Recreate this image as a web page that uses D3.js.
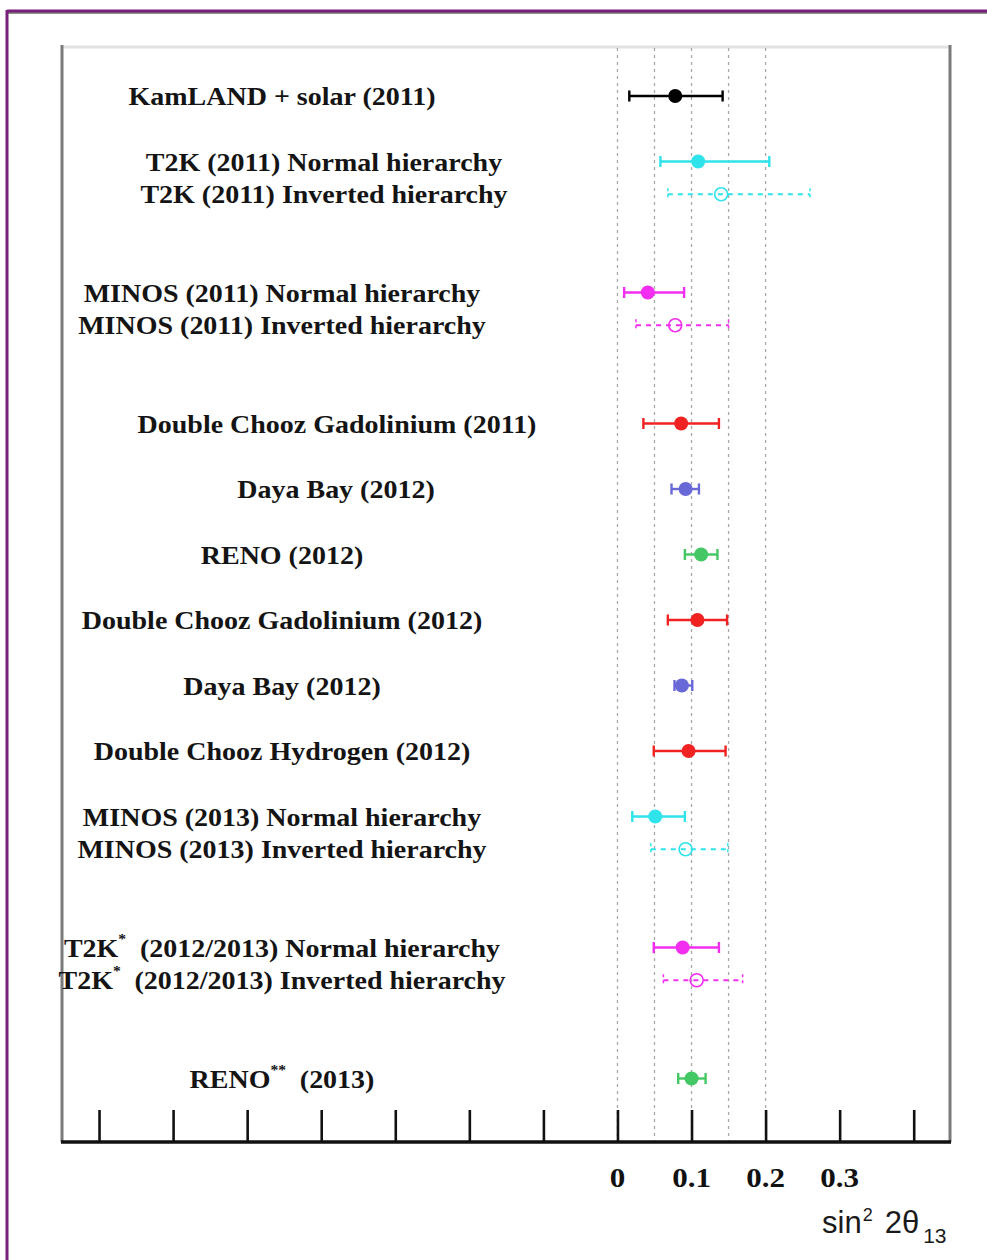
<!DOCTYPE html>
<html>
<head>
<meta charset="utf-8">
<script src="https://cdn.jsdelivr.net/npm/d3@7"></script>
<style>
  html, body { margin: 0; padding: 0; background: #fff; }
  svg { display: block; }
  .label { font-family: "Liberation Serif", "Times New Roman", serif; font-weight: bold; fill: #141414; }
  .ticklabel { font-family: "Liberation Serif", "Times New Roman", serif; font-weight: bold; fill: #111; }
  .axistitle { font-family: "Liberation Sans", Arial, sans-serif; fill: #1a1a1a; }
</style>
</head>
<body>
<div id="chart"></div>
<script>
// measurement labels, ^{..} marks a superscript
const labels = [
  "KamLAND + solar (2011)",
  "T2K (2011) Normal hierarchy",
  "T2K (2011) Inverted hierarchy",
  "MINOS (2011) Normal hierarchy",
  "MINOS (2011) Inverted hierarchy",
  "Double Chooz Gadolinium (2011)",
  "Daya Bay (2012)",
  "RENO (2012)",
  "Double Chooz Gadolinium (2012)",
  "Daya Bay (2012)",
  "Double Chooz Hydrogen (2012)",
  "MINOS (2013) Normal hierarchy",
  "MINOS (2013) Inverted hierarchy",
  "T2K^{*} (2012/2013) Normal hierarchy",
  "T2K^{*} (2012/2013) Inverted hierarchy",
  "RENO^{**} (2013)"
];
// row slot of each measurement (top = 0)
const rows = [0, 1, 1.5, 3, 3.5, 5, 6, 7, 8, 9, 10, 11, 11.5, 13, 13.5, 15];
// sin^2 2theta13: best fit and interval
const best  = [0.078, 0.109, 0.140, 0.041, 0.078, 0.086, 0.092, 0.113, 0.108, 0.087, 0.096, 0.051, 0.092, 0.088, 0.107, 0.100];
const lower = [0.016, 0.058, 0.068, 0.009, 0.025, 0.035, 0.073, 0.091, 0.068, 0.077, 0.049, 0.020, 0.045, 0.049, 0.062, 0.082];
const upper = [0.142, 0.205, 0.260, 0.090, 0.150, 0.137, 0.110, 0.135, 0.148, 0.101, 0.146, 0.091, 0.149, 0.137, 0.169, 0.119];
const experiment = ["kamland", "t2k", "t2k", "minos", "minos", "dchooz", "dayabay", "reno", "dchooz", "dayabay", "dchooz", "minos13", "minos13", "t2k13", "t2k13", "reno"];
const hierarchy = ["", "NH", "IH", "NH", "IH", "", "", "", "", "", "", "NH", "IH", "NH", "IH", ""];

const xTicks = [-0.7, -0.6, -0.5, -0.4, -0.3, -0.2, -0.1, 0, 0.1, 0.2, 0.3, 0.4];
const xTickLabels = ["0", "0.1", "0.2", "0.3"];
const gridValues = [0, 0.05, 0.1, 0.15, 0.2];

const colors = {
  kamland: "#000000", t2k: "#2ee3ea", minos: "#f22ef0", dchooz: "#f02222",
  dayabay: "#6868d6", reno: "#44c865", minos13: "#2ee3ea", t2k13: "#f22ef0"
};

// label centres: most share one centre, a few sit further right
const labelCenter = 282;
const labelShift = { 1: 42, 2: 42, 5: 55, 6: 54 };

const W = 987, H = 1260;
const plot = { left: 62, right: 950, top: 46, bottom: 1142 };

const svg = d3.select("#chart").append("svg")
  .attr("width", W)
  .attr("height", H);

// purple page frame
svg.append("line").attr("x1", 7).attr("x2", W).attr("y1", 11).attr("y2", 11)
  .attr("stroke", "#7a1f7c").attr("stroke-width", 3);
svg.append("line").attr("x1", 7).attr("x2", W).attr("y1", 13).attr("y2", 13)
  .attr("stroke", "#222").attr("stroke-width", 1);
svg.append("line").attr("x1", 7).attr("x2", 7).attr("y1", 10).attr("y2", H)
  .attr("stroke", "#7a1f7c").attr("stroke-width", 3);

const x = d3.scaleLinear().domain([-0.75, 0.449]).range([plot.left, plot.right]);
const y = d3.scaleLinear().domain([0, 15]).range([96, 1078.5]);

// plot box
svg.append("line").attr("x1", plot.left).attr("x2", plot.right).attr("y1", plot.top + 1).attr("y2", plot.top + 1)
  .attr("stroke", "#e2e2e2").attr("stroke-width", 3);
svg.append("line").attr("x1", plot.left).attr("x2", plot.left).attr("y1", plot.top - 1).attr("y2", plot.bottom)
  .attr("stroke", "#7a7a7a").attr("stroke-width", 3);
svg.append("line").attr("x1", plot.right).attr("x2", plot.right).attr("y1", plot.top - 1).attr("y2", plot.bottom)
  .attr("stroke", "#7a7a7a").attr("stroke-width", 3);

// dashed guide lines
svg.append("g").selectAll("line")
  .data(gridValues)
  .join("line")
  .attr("x1", d => x(d)).attr("x2", d => x(d))
  .attr("y1", plot.top + 2).attr("y2", plot.bottom)
  .attr("stroke", "#a8a8a8")
  .attr("stroke-width", 1.3)
  .attr("stroke-dasharray", "3,4");

// bottom axis with inward ticks
const axis = d3.axisTop(x)
  .tickValues(xTicks)
  .tickSize(32)
  .tickFormat("");
const axisG = svg.append("g")
  .attr("transform", `translate(0,${plot.bottom})`)
  .call(axis);
axisG.select(".domain").remove();
axisG.selectAll(".tick line").attr("stroke", "#111").attr("stroke-width", 2.6);
svg.append("line").attr("x1", plot.left - 1).attr("x2", plot.right + 1)
  .attr("y1", plot.bottom).attr("y2", plot.bottom)
  .attr("stroke", "#111").attr("stroke-width", 3.5);

// tick labels
svg.append("g").selectAll("text")
  .data(xTickLabels)
  .join("text")
  .attr("class", "ticklabel")
  .attr("transform", d => `translate(${x(+d)},1187) scale(1.15,1)`)
  .attr("text-anchor", "middle")
  .attr("font-size", 27)
  .text(d => d);

// axis title sin^2 2theta_13
const title = svg.append("text")
  .attr("class", "axistitle")
  .attr("x", 822).attr("y", 1233)
  .attr("font-size", 31);
title.append("tspan").text("sin");
title.append("tspan").attr("font-size", 18).attr("dy", -12).attr("dx", 1).text("2");
title.append("tspan").attr("dy", 12).attr("dx", 12).text("2θ");
title.append("tspan").attr("font-size", 21).attr("dy", 10).attr("dx", 4).text("13");

// labels
const labelG = svg.append("g");
labels.forEach((lab, i) => {
  const cx = labelCenter + (labelShift[i] || 0);
  const t = labelG.append("text")
    .attr("class", "label")
    .attr("transform", `translate(${cx},${y(rows[i]) + 9}) scale(1.12,1)`)
    .attr("text-anchor", "middle")
    .attr("font-size", 25);
  const parts = lab.split(/(\^\{[^}]*\})/).filter(p => p.length);
  let raised = false;
  parts.forEach(p => {
    const m = p.match(/^\^\{(.*)\}$/);
    if (m) {
      t.append("tspan").attr("font-size", 14).attr("dy", -13).text(m[1]);
      raised = true;
    } else {
      const s = t.append("tspan").text(p);
      if (raised) { s.attr("dy", 13).attr("dx", 6); raised = false; }
    }
  });
});

// error bars and markers
const points = labels.map((lab, i) => ({
  row: rows[i], best: best[i], lo: lower[i], hi: upper[i],
  color: colors[experiment[i]], inverted: hierarchy[i] === "IH"
}));

const pg = svg.append("g").selectAll("g")
  .data(points)
  .join("g")
  .attr("transform", d => `translate(0,${y(d.row)})`);

pg.append("line")
  .attr("x1", d => x(d.lo)).attr("x2", d => x(d.hi))
  .attr("stroke", d => d.color)
  .attr("stroke-width", d => d.inverted ? 1.8 : 2.4)
  .attr("stroke-dasharray", d => d.inverted ? "5,5" : null);

pg.selectAll("line.cap")
  .data(d => [{ v: d.lo, p: d }, { v: d.hi, p: d }])
  .join("line")
  .attr("class", "cap")
  .attr("x1", c => x(c.v)).attr("x2", c => x(c.v))
  .attr("y1", c => c.p.inverted ? -6 : -5.5).attr("y2", c => c.p.inverted ? 6 : 5.5)
  .attr("stroke", c => c.p.color)
  .attr("stroke-width", c => c.p.inverted ? 1.5 : 2.4)
  .attr("stroke-dasharray", c => c.p.inverted ? "3,3" : null);

pg.append("circle")
  .attr("cx", d => x(d.best))
  .attr("r", d => d.inverted ? 6.5 : 7)
  .attr("fill", d => d.inverted ? "none" : d.color)
  .attr("stroke", d => d.color)
  .attr("stroke-width", d => d.inverted ? 1.6 : 0);
</script>
</body>
</html>
